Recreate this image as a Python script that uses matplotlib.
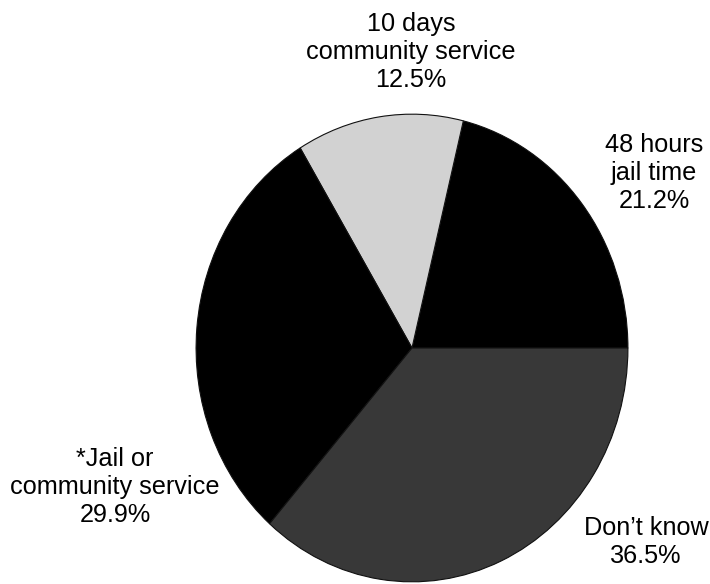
import matplotlib
matplotlib.use("Agg")
import matplotlib.pyplot as plt

labels = ["48 hours\njail time", "10 days\ncommunity service", "*Jail or\ncommunity service", "Don\u2019t know"]
values = [21.2, 12.5, 29.9, 36.5]
colors = ["#000000", "#d2d2d2", "#000000", "#383838"]
label_pos = [(654, 173), (411, 52), (115, 487), (646, 542)]  # pixel centers

W, H = 710, 584
fig = plt.figure(figsize=(W / 100, H / 100), dpi=100)
plt.rcParams['font.family'] = ['Liberation Sans', 'DejaVu Sans']

cx, cy, rx, ry = 412, 348, 217, 235
ax = fig.add_axes([(cx - rx) / W, (H - cy - ry) / H, 2 * rx / W, 2 * ry / H])
ax.pie(values, colors=colors, startangle=0, counterclock=True,
       wedgeprops=dict(edgecolor="#111111", linewidth=0.8))
ax.set_aspect('auto')
ax.set_xlim(-1.005, 1.005)
ax.set_ylim(-1.005, 1.005)
ax.axis('off')

for lab, v, (x, y) in zip(labels, values, label_pos):
    fig.text(x / W, 1 - y / H, f"{lab}\n{v:.1f}%", ha='center', va='center',
             fontsize=18.2, linespacing=1.22, color='black')

fig.savefig("out.png", dpi=100, facecolor='white')
